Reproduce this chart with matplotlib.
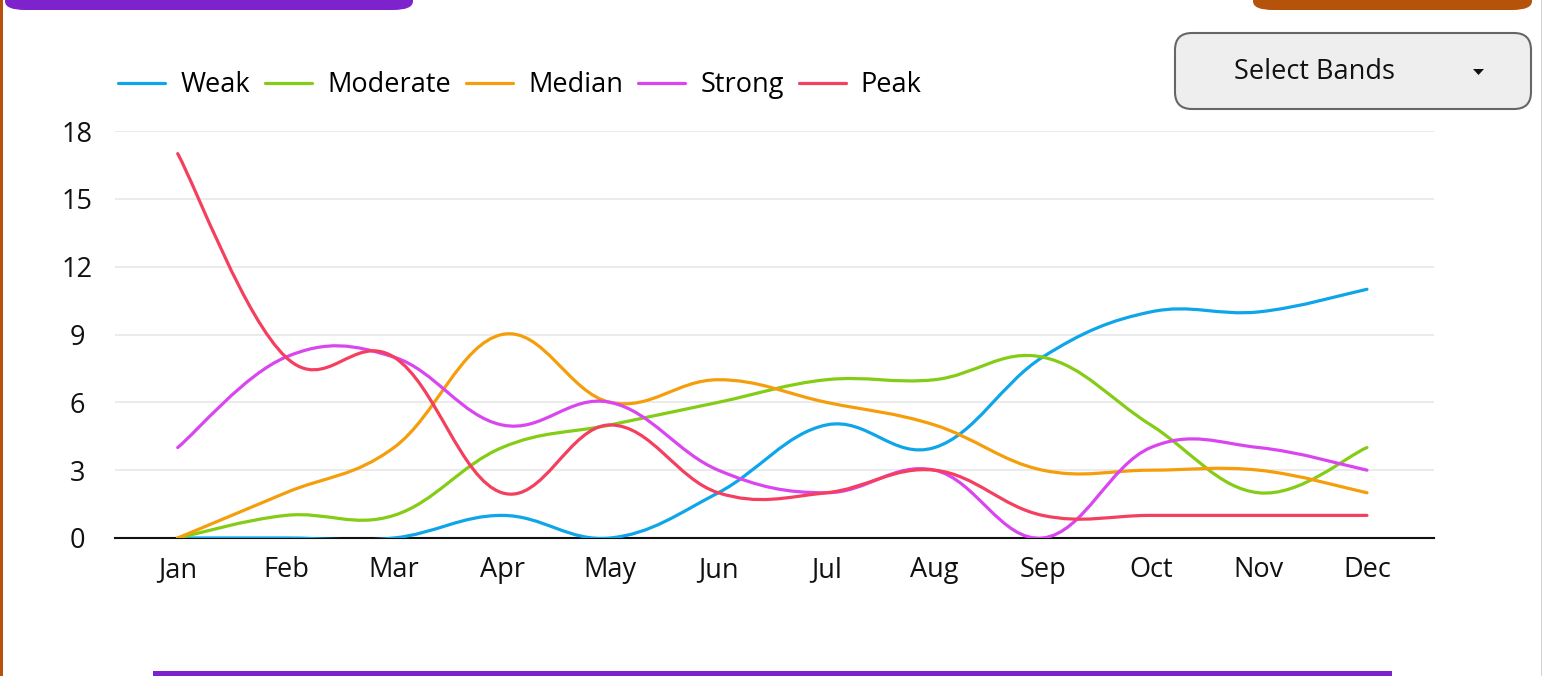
import matplotlib
matplotlib.use("Agg")
import matplotlib.pyplot as plt
from matplotlib.path import Path
from matplotlib.patches import PathPatch, FancyBboxPatch, Rectangle, Polygon
from matplotlib.lines import Line2D

plt.rcParams['font.family'] = ['Open Sans', 'DejaVu Sans']

# data
months = ['Jan', 'Feb', 'Mar', 'Apr', 'May', 'Jun',
          'Jul', 'Aug', 'Sep', 'Oct', 'Nov', 'Dec']
weak = [0, 0, 0, 1, 0, 2, 5, 4, 8, 10, 10, 11]
moderate = [0, 1, 1, 4, 5, 6, 7, 7, 8, 5, 2, 4]
median = [0, 2, 4, 9, 6, 7, 6, 5, 3, 3, 3, 2]
strong = [4, 8, 8, 5, 6, 3, 2, 3, 0, 4, 4, 3]
peak = [17, 8, 8, 2, 5, 2, 2, 3, 1, 1, 1, 1]

series_names = ['Weak', 'Moderate', 'Median', 'Strong', 'Peak']
series_values = [weak, moderate, median, strong, peak]
series_colors = ['#0ea5e9', '#84cc16', '#f59e0b', '#d946ef', '#f43f5e']
y_ticks = [0, 3, 6, 9, 12, 15, 18]


def smooth_path(xs, ys, t=0.19):
    # cubic bezier through the points (catmull-rom style control points)
    n = len(xs)
    verts = [(xs[0], ys[0])]
    codes = [Path.MOVETO]
    for i in range(n - 1):
        p0 = i - 1 if i > 0 else i
        p3 = i + 2 if i + 2 < n else i + 1
        c1 = (xs[i] + t * (xs[i + 1] - xs[p0]), ys[i] + t * (ys[i + 1] - ys[p0]))
        c2 = (xs[i + 1] - t * (xs[p3] - xs[i]), ys[i + 1] - t * (ys[p3] - ys[i]))
        verts += [c1, c2, (xs[i + 1], ys[i + 1])]
        codes += [Path.CURVE4] * 3
    return Path(verts, codes)


fig = plt.figure(figsize=(15.44, 6.76), dpi=100)
fig.patch.set_facecolor('white')
ax = fig.add_axes([115 / 1544, 1 - 538 / 676, (1434 - 115) / 1544, (538 - 131) / 676])

x = list(range(len(months)))
for name, vals, col in zip(series_names, series_values, series_colors):
    ax.add_patch(PathPatch(smooth_path(x, vals), facecolor='none', edgecolor=col,
                           lw=2.3, capstyle='round', joinstyle='round', zorder=3))

ax.set_xlim(-0.58, 11.62)
ax.set_ylim(0, 18)
ax.set_xticks(x)
ax.set_xticklabels(months)
ax.set_yticks(y_ticks)
ax.tick_params(length=0, labelsize=19.5, colors='#111111')
ax.tick_params(axis='x', pad=13)
ax.tick_params(axis='y', pad=27)
for lab in ax.get_yticklabels():
    lab.set_horizontalalignment('center')
for s in ['top', 'right', 'left']:
    ax.spines[s].set_visible(False)
ax.spines['bottom'].set_linewidth(1.5)
ax.spines['bottom'].set_color('#111111')
ax.spines['bottom'].set_zorder(2)
ax.grid(axis='y', color='#e8e8e8', lw=1.2)
ax.set_axisbelow(True)

handles = [Line2D([], [], color=c, lw=2.3, solid_capstyle='round') for c in series_colors]
fig.legend(handles, series_names, loc='center left', bbox_to_anchor=(118 / 1544, 1 - 85 / 676),
           ncol=5, frameon=False, fontsize=19.5, handlelength=1.75, handletextpad=0.55,
           columnspacing=0.55, borderaxespad=0, borderpad=0)

# page decorations around the chart
fig.add_artist(FancyBboxPatch((5 / 1544, 1 - 10 / 676), 408 / 1544, 30 / 676,
                              boxstyle='round,pad=0,rounding_size=0.013',
                              facecolor='#7e22ce', edgecolor='none', transform=fig.transFigure))
fig.add_artist(FancyBboxPatch((1253 / 1544, 1 - 10 / 676), 279 / 1544, 30 / 676,
                              boxstyle='round,pad=0,rounding_size=0.013',
                              facecolor='#b45309', edgecolor='none', transform=fig.transFigure))
fig.add_artist(Rectangle((0, 0), 3 / 1544, 1, facecolor='#b45309', edgecolor='none',
                         transform=fig.transFigure))
fig.add_artist(Rectangle((1541 / 1544, 0), 1 / 1544, 1, facecolor='#d9d0c7', edgecolor='none',
                         transform=fig.transFigure))
fig.add_artist(Rectangle((153 / 1544, 0), (1392 - 153) / 1544, 5 / 676, facecolor='#7e22ce',
                         edgecolor='none', transform=fig.transFigure))

# dropdown
fig.add_artist(FancyBboxPatch((1175 / 1544, 1 - 109 / 676), 356 / 1544, 76 / 676,
                              boxstyle='round,pad=0,rounding_size=0.011',
                              facecolor='#eeeeee', edgecolor='#666666', lw=1.5,
                              transform=fig.transFigure, mutation_aspect=1544 / 676))
fig.text(1315 / 1544, 1 - 72 / 676, 'Select Bands', ha='center', va='center', fontsize=19.5,
         color='#111111')
fig.add_artist(Polygon([(1473 / 1544, 1 - 69 / 676), (1484 / 1544, 1 - 69 / 676),
                        (1478.5 / 1544, 1 - 75 / 676)], closed=True, facecolor='#111111',
                       edgecolor='none', transform=fig.transFigure))

fig.savefig('out.png', dpi=100, facecolor='white')
